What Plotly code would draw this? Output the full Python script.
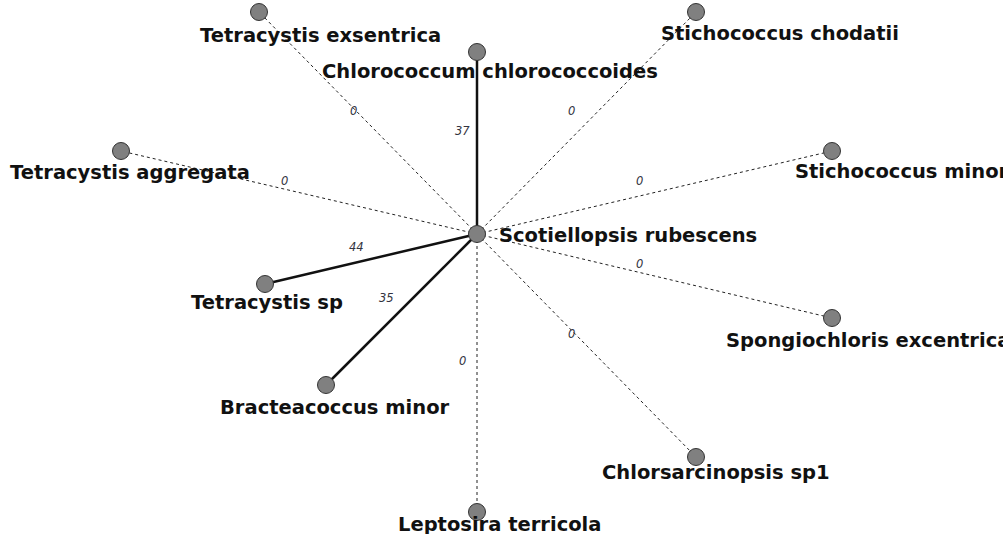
import plotly.graph_objects as go

# ---- data ----
center_name = "Scotiellopsis rubescens"
center_pos = (477, 234)
node_names = [
    "Tetracystis exsentrica",
    "Chlorococcum chlorococcoides",
    "Stichococcus chodatii",
    "Tetracystis aggregata",
    "Stichococcus minor",
    "Tetracystis sp",
    "Spongiochloris excentrica",
    "Bracteacoccus minor",
    "Chlorsarcinopsis sp1",
    "Leptosira terricola",
]
node_x = [259, 477, 696, 121, 832, 265, 832, 326, 696, 477]
node_y = [12, 52, 12, 151, 151, 284, 318, 385, 457, 512]
edge_weights = [0, 37, 0, 0, 0, 44, 0, 35, 0, 0]

# label placement (styling): shift of label centre from node, in px
label_dx = [61, 13, 84, 9, 70, 2, 36, 9, 20, 22]
label_dy = [23, 19, 21, 21, 20, 18, 22, 22, 15, 12]
center_label_dx = 151
center_label_dy = 1

LABEL_FONT = "DejaVu Sans, Verdana, sans-serif"

fig = go.Figure()

# edges
sx, sy, dx_, dy_ = [], [], [], []
for x, y, w in zip(node_x, node_y, edge_weights):
    if w > 0:
        sx += [center_pos[0], x, None]
        sy += [center_pos[1], y, None]
    else:
        dx_ += [center_pos[0], x, None]
        dy_ += [center_pos[1], y, None]

fig.add_trace(go.Scatter(x=dx_, y=dy_, mode="lines",
                         line=dict(color="#222222", width=1, dash="3px,3px"),
                         hoverinfo="skip", showlegend=False))
fig.add_trace(go.Scatter(x=sx, y=sy, mode="lines",
                         line=dict(color="#111111", width=2.5),
                         hoverinfo="skip", showlegend=False))

# nodes
fig.add_trace(go.Scatter(x=node_x + [center_pos[0]], y=node_y + [center_pos[1]],
                         mode="markers",
                         marker=dict(size=17, color="#808080",
                                     line=dict(color="#333333", width=1)),
                         text=node_names + [center_name], hoverinfo="text",
                         showlegend=False))

annotations = []
# edge labels
for x, y, w in zip(node_x, node_y, edge_weights):
    mx = (center_pos[0] + x) / 2
    my = (center_pos[1] + y) / 2
    annotations.append(dict(x=mx, y=my, xshift=-15, yshift=12, text=f"<i>{w}</i>",
                            showarrow=False,
                            font=dict(family=LABEL_FONT, size=11.5, color="#333340")))

# node labels
for name, x, y, ox, oy in zip(node_names, node_x, node_y, label_dx, label_dy):
    annotations.append(dict(x=x, y=y, xshift=ox, yshift=-oy, text=f"<b>{name}</b>",
                            showarrow=False,
                            font=dict(family=LABEL_FONT, size=19.5, color="#111111")))
annotations.append(dict(x=center_pos[0], y=center_pos[1], xshift=center_label_dx,
                        yshift=-center_label_dy, text=f"<b>{center_name}</b>",
                        showarrow=False,
                        font=dict(family=LABEL_FONT, size=19.5, color="#111111")))

fig.update_layout(
    width=1003, height=534,
    margin=dict(l=0, r=0, t=0, b=0),
    paper_bgcolor="white", plot_bgcolor="white",
    xaxis=dict(range=[0, 1003], visible=False, fixedrange=True),
    yaxis=dict(range=[534, 0], visible=False, fixedrange=True),
    annotations=annotations,
)

fig.write_html("out.html",
               config={"displayModeBar": False},
               post_script="document.body.style.margin='0';document.body.style.overflow='hidden';")
